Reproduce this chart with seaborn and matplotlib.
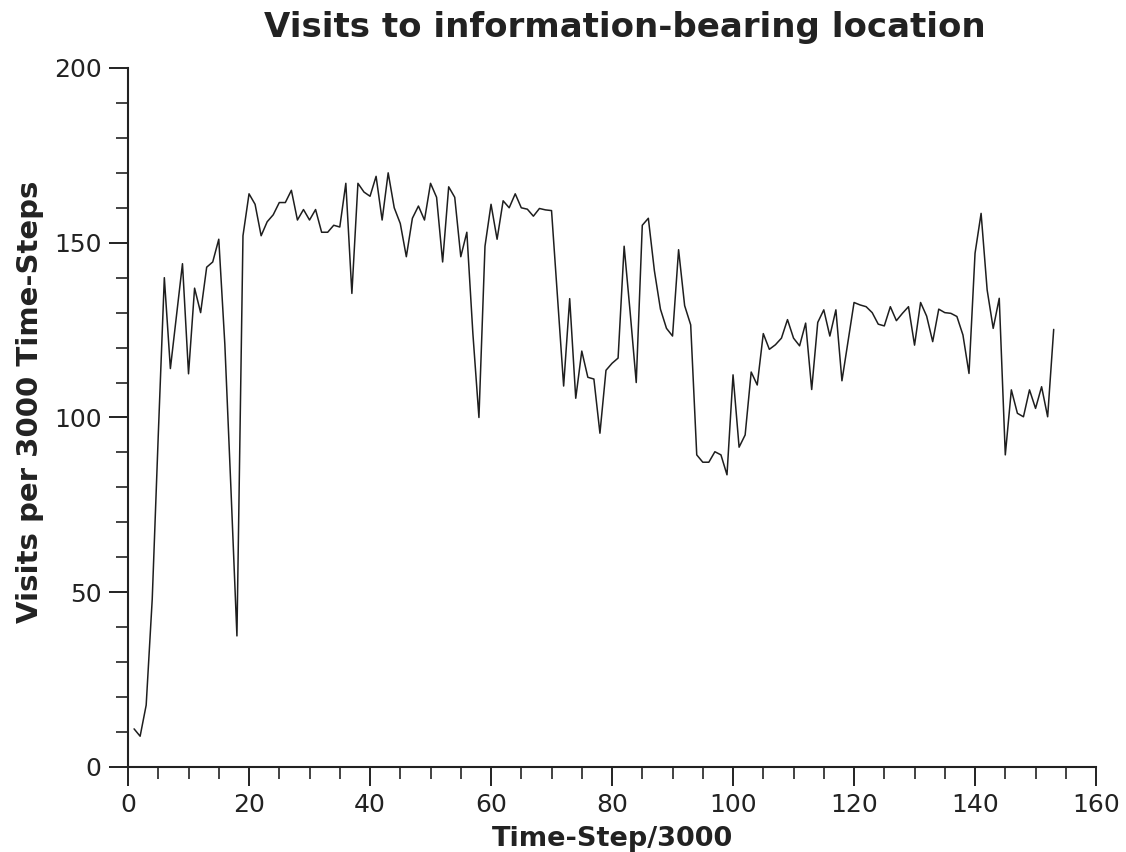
import numpy as np
import pandas as pd
import matplotlib
matplotlib.use("Agg")
import matplotlib.pyplot as plt
from matplotlib.ticker import MultipleLocator
import seaborn as sns

# Visits to the information-bearing location, one value per block of 3000 steps
time_step = list(range(1, 154))
visits = [
    10.9, 8.8, 17.7, 48, 95, 140, 114, 129, 144, 112.5,
    137, 130, 143, 144.5, 151, 121, 80, 37.5, 152, 164,
    161, 152, 156, 158, 161.5, 161.5, 165, 156.5, 159.5, 156.5,
    159.5, 153, 153, 155, 154.5, 167, 135.5, 167, 164.5, 163.3,
    169, 156.5, 170, 160, 155.5, 146, 157, 160.5, 156.5, 167,
    163, 144.5, 166, 163, 146, 153, 124, 100, 149, 161,
    151, 162, 160, 164, 160, 159.6, 157.6, 159.8, 159.4, 159.2,
    134, 109, 134, 105.5, 119, 111.5, 111, 95.5, 113.5, 115.5,
    117, 149, 130, 110, 155, 157, 142, 131, 125.5, 123.3,
    148, 132, 126.5, 89.3, 87.2, 87.2, 90.2, 89.3, 83.6, 112.2,
    91.5, 95, 113, 109.3, 124, 119.5, 120.8, 122.7, 128, 122.7,
    120.5, 127, 108, 127.2, 130.8, 123.3, 130.8, 110.5, 121.7, 132.9,
    132.2, 131.7, 130, 126.7, 126.2, 131.7, 127.7, 129.8, 131.7, 120.7,
    132.9, 129, 121.7, 131, 130, 129.8, 128.9, 123.6, 112.6, 147,
    158.4, 136.5, 125.5, 134.1, 89.3, 107.9, 101.2, 100.2, 107.9, 102.6,
    108.8, 100.2, 125.2,
]

df = pd.DataFrame({"step": time_step, "visits": visits})

sns.set_style("ticks")
plt.rcParams["font.family"] = ["DejaVu Sans"]
text_color = "#222222"

fig = plt.figure(figsize=(11.26, 8.52), dpi=100)
ax = fig.add_axes([0.1137, 0.0998, 0.8597, 0.8204])

sns.lineplot(data=df, x="step", y="visits", ax=ax, color="#1e1e1e",
             linewidth=1.1, estimator=None)

ax.set_xlim(0, 160)
ax.set_ylim(0, 200)
ax.xaxis.set_major_locator(MultipleLocator(20))
ax.xaxis.set_minor_locator(MultipleLocator(5))
ax.yaxis.set_major_locator(MultipleLocator(50))
ax.yaxis.set_minor_locator(MultipleLocator(10))

for side in ("top", "right"):
    ax.spines[side].set_visible(False)
for side in ("left", "bottom"):
    ax.spines[side].set_linewidth(1.5)
    ax.spines[side].set_color(text_color)

ax.tick_params(axis="both", which="major", direction="out", length=14,
               width=1.4, color=text_color, labelsize=18,
               labelcolor=text_color, pad=5)
ax.tick_params(axis="both", which="minor", direction="out", length=8.5,
               width=1.2, color=text_color)

ax.set_title("Visits to information-bearing location", fontsize=24.5,
             fontweight="bold", color=text_color, pad=22, x=0.513)
ax.set_xlabel("Time-Step/3000", fontsize=19.5, fontweight="bold",
              color=text_color, labelpad=6)
ax.set_ylabel("Visits per 3000 Time-Steps", fontsize=21, fontweight="bold",
              color=text_color, labelpad=7, y=0.523)

fig.savefig("out.png", dpi=100)
